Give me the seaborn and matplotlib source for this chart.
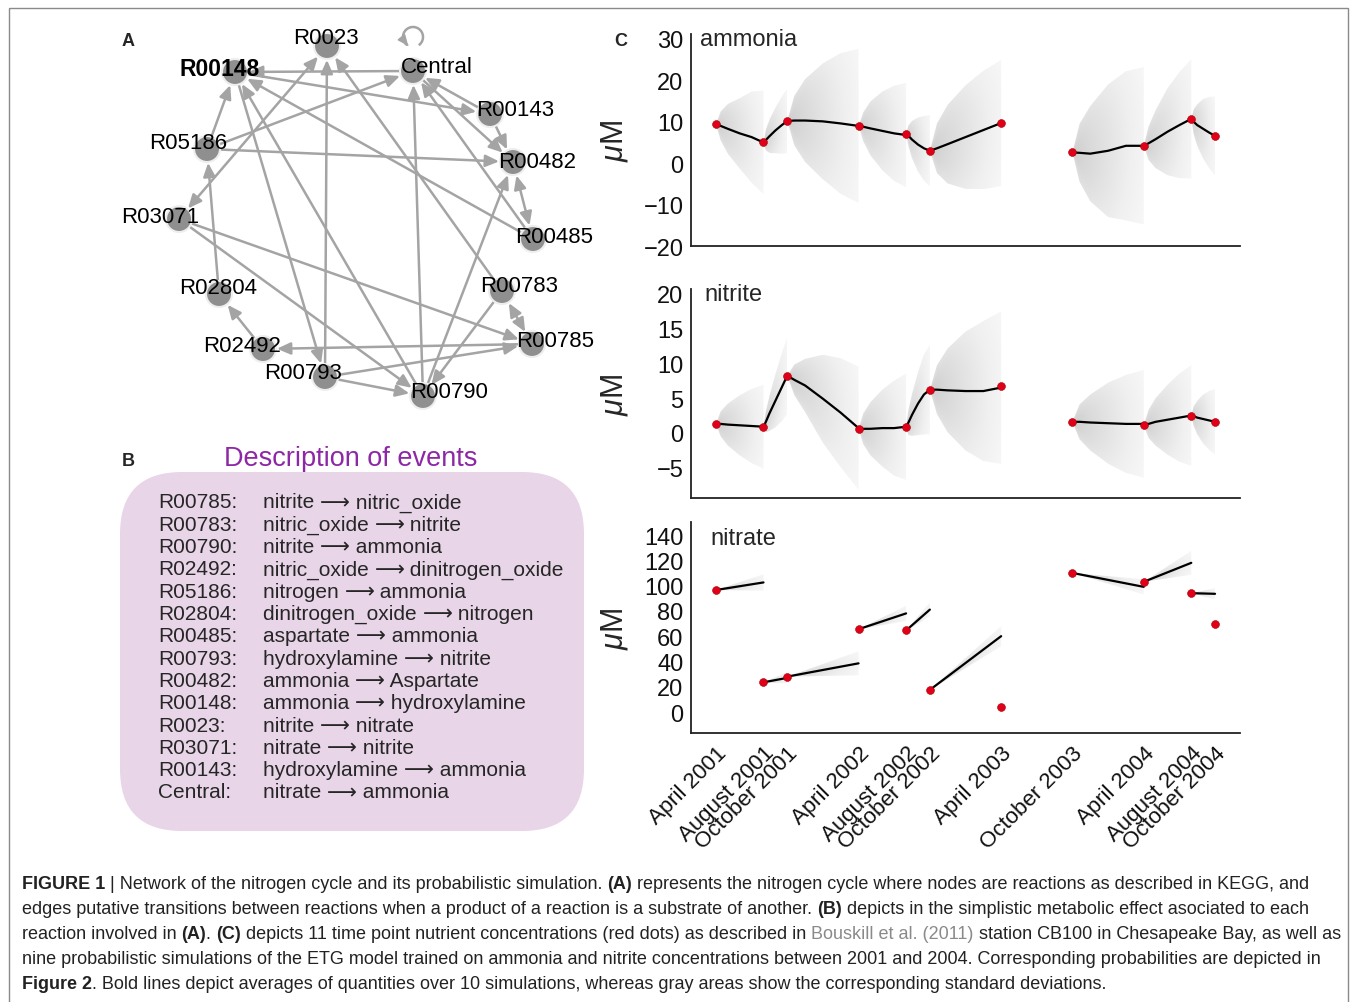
import matplotlib
matplotlib.use("Agg")
import matplotlib.pyplot as plt
import seaborn as sns
import numpy as np
import pandas as pd
from matplotlib.patches import FancyArrowPatch, Circle, FancyBboxPatch, Rectangle, PathPatch, Arc
from matplotlib.font_manager import FontProperties

# ---------------- panel A : reaction network ----------------
node_names = ["R0023", "Central", "R00148", "R00143", "R05186", "R00482", "R03071",
              "R00485", "R00783", "R02804", "R00785", "R02492", "R00793", "R00790"]
node_x = [327, 413, 235, 490, 207, 513, 179, 533, 502, 219, 532, 263, 325, 423]
node_y = [47, 72, 73, 115, 150, 163, 220, 240, 292, 295, 345, 350, 378, 397]
label_dx = [-1, 24, -15, 25, -19, 24, -19, 21, 17, -1, 23, -21, -22, 26]
label_dy = [-9, -5, -4, -5, -7, -1, -3, -3, -6, -7, -4, -4, -5, -4]

edges = [("Central", "R00148"), ("R00148", "R00143"), ("R05186", "R00148"),
         ("R05186", "Central"), ("R05186", "R00482"), ("R00793", "R0023"),
         ("R00783", "R0023"), ("R00148", "R00793"), ("R00790", "R00148"),
         ("R00485", "R00148"), ("R00143", "Central"), ("Central", "R00482"),
         ("R00485", "Central"), ("R00143", "R00482"), ("R00790", "Central"),
         ("R00790", "R00482"), ("R00783", "R00790"), ("R03071", "R00785"),
         ("R03071", "R00790"), ("R02804", "R05186"), ("R02492", "R02804"),
         ("R00785", "R02492"), ("R00793", "R00785"), ("R00793", "R00790")]
double_edges = [("R0023", "R03071"), ("R00482", "R00485"), ("R00783", "R00785")]

# ---------------- panel B : description of events ----------------
event_codes = ["R00785:", "R00783:", "R00790:", "R02492:", "R05186:", "R02804:", "R00485:",
               "R00793:", "R00482:", "R00148:", "R0023:", "R03071:", "R00143:", "Central:"]
event_from = ["nitrite", "nitric_oxide", "nitrite", "nitric_oxide", "nitrogen",
              "dinitrogen_oxide", "aspartate", "hydroxylamine", "ammonia", "ammonia",
              "nitrite", "nitrate", "hydroxylamine", "nitrate"]
event_to = ["nitric_oxide", "nitrite", "ammonia", "dinitrogen_oxide", "ammonia",
            "nitrogen", "ammonia", "nitrite", "Aspartate", "hydroxylamine",
            "nitrate", "nitrite", "ammonia", "ammonia"]

# ---------------- panel C : simulations ----------------
months = [0, 4, 6, 12, 16, 18, 24, 30, 36, 40, 42]
date_labels = ["April 2001", "August 2001", "October 2001", "April 2002", "August 2002",
               "October 2002", "April 2003", "October 2003", "April 2004", "August 2004",
               "October 2004"]
ammonia_obs = [9.4, 5.0, 10.2, 9.0, 7.1, 3.0, 9.7, 2.6, 4.2, 10.7, 6.6]
nitrite_obs = [1.3, 0.9, 8.2, 0.6, 0.9, 6.2, 6.7, 1.6, 1.1, 2.5, 1.6]
nitrate_obs = [96.5, 23.5, 28.0, 65.5, 64.5, 17.5, 4.0, 110.0, 103.0, 94.0, 70.0]

seg_start = [0, 1, 2, 3, 4, 5, 7, 8, 9]      # index of the starting observation
sim_frac = [0, 0.1, 0.25, 0.5, 0.75, 1.0]    # where the sim values were read

ammonia_mean = [[9.4, 9.0, 8.3, 7.2, 6.3, 5.0], [5.0, 5.6, 6.5, 7.9, 9.1, 10.2],
                [10.2, 10.3, 10.3, 10.1, 9.6, 9.0], [9.0, 8.8, 8.4, 7.8, 7.2, 6.8],
                [7.1, 6.6, 5.7, 4.5, 3.6, 3.0], [3.0, 3.6, 4.6, 6.3, 8.0, 9.7],
                [2.6, 2.5, 2.3, 3.0, 4.2, 4.2], [4.2, 4.8, 5.8, 7.6, 9.2, 10.7],
                [10.7, 10.0, 9.2, 8.3, 7.4, 6.6]]
ammonia_sd = [[0, 3.5, 6, 8.5, 11, 12.5], [0, 2.5, 4, 5.5, 6.8, 7.8],
              [0, 6, 10, 14, 17, 18.6], [0, 3.5, 6.5, 9.5, 11.5, 12.6],
              [0, 2.5, 4.5, 6.5, 7.8, 8.6], [0, 6, 9.5, 12.5, 14.3, 15.2],
              [0, 7, 11.5, 16, 18, 19], [0, 4, 7, 10.5, 12.8, 14.4],
              [0, 3, 5, 7.2, 8.6, 9.5]]
nitrite_mean = [[1.3, 1.3, 1.2, 1.1, 1.0, 0.9], [0.9, 1.6, 2.8, 4.6, 6.4, 8.2],
                [8.2, 7.6, 6.8, 4.9, 2.9, 0.7], [0.6, 0.6, 0.6, 0.7, 0.7, 0.9],
                [0.9, 1.5, 2.6, 4.2, 5.5, 6.2], [6.2, 6.2, 6.1, 6.0, 6.0, 6.5],
                [1.6, 1.6, 1.5, 1.4, 1.3, 1.3], [1.1, 1.3, 1.6, 1.9, 2.2, 2.5],
                [2.5, 2.4, 2.2, 2.0, 1.8, 1.6]]
nitrite_sd = [[0, 1.8, 3.0, 4.3, 5.3, 6.0], [0, 1.5, 2.5, 3.8, 4.8, 5.5],
              [0, 2.2, 3.8, 6.3, 7.8, 8.8], [0, 2.2, 3.8, 5.5, 6.8, 7.6],
              [0, 1.8, 3.0, 4.5, 5.7, 6.4], [0, 3.5, 6.0, 8.5, 10, 10.9],
              [0, 2.5, 4.0, 5.8, 7.0, 7.7], [0, 2, 3.4, 5, 6.3, 7.2],
              [0, 1.4, 2.4, 3.5, 4.2, 4.7]]
nitrate_frac = [0, 1.0]
nitrate_mean = [[96.5, 102.5], [23.5, 27.0], [28.0, 38.5], [65.5, 78.0], [64.5, 81.0],
                [17.5, 60.0], [110.0, 99.0], [103.0, 118.0], [94.0, 93.5]]
nitrate_sd = [[0, 6.5], [0, 4.5], [0, 9.5], [0, 6.0], [0, 5.5], [0, 8.0],
              [0, 6.0], [0, 9.5], [0, 4.4]]

# ---------------- style ----------------
sns.set_theme(style="white")
plt.rcParams["font.family"] = ["Liberation Sans", "DejaVu Sans"]
plt.rcParams["axes.unicode_minus"] = True
plt.rcParams["mathtext.fontset"] = "custom"
plt.rcParams["mathtext.it"] = "Liberation Sans:italic"
plt.rcParams["mathtext.rm"] = "Liberation Sans"

W, H = 1358, 1003
fig = plt.figure(figsize=(W / 100, H / 100), dpi=100)
fig.patch.set_facecolor("white")
renderer = fig.canvas.get_renderer()


def run_width(s, size, weight="normal", family=("Liberation Sans", "DejaVu Sans")):
    # advance width of a text run in pixels (trailing spaces included)
    fp = FontProperties(family=list(family), size=size, weight=weight)
    w1, _, _ = renderer.get_text_width_height_descent(s + "l", fp, ismath=False)
    w2, _, _ = renderer.get_text_width_height_descent("l", fp, ismath=False)
    return w1 - w2


# overlay axes in pixel coordinates for panels A, B and the caption
ax0 = fig.add_axes([0, 0, 1, 1])
ax0.set_xlim(0, W)
ax0.set_ylim(H, 0)
ax0.axis("off")

ax0.add_patch(Rectangle((9, 9), 1339, 1010, fill=False, ec="#8a8a8a", lw=1.0))

# ---- panel A
ax0.text(128, 41, "A", fontsize=13, fontweight="bold", ha="center", va="center")
pos = {n: (x, y) for n, x, y in zip(node_names, node_x, node_y)}
edge_col = "#a4a4a4"
for a, b in edges:
    ax0.add_patch(FancyArrowPatch(pos[a], pos[b], arrowstyle="-|>,head_length=0.45,head_width=0.2",
                                  mutation_scale=18, color=edge_col, lw=1.8,
                                  shrinkA=9, shrinkB=10, zorder=2))
for a, b in double_edges:
    ax0.add_patch(FancyArrowPatch(pos[a], pos[b], arrowstyle="<|-|>,head_length=0.45,head_width=0.2",
                                  mutation_scale=18, color=edge_col, lw=1.8,
                                  shrinkA=10, shrinkB=10, zorder=2))
cx, cy = pos["Central"]
ax0.add_patch(Arc((cx, cy - 34), 20, 20, theta1=125, theta2=415, color=edge_col, lw=1.8, zorder=2))
ax0.add_patch(FancyArrowPatch((cx - 7, cy - 28), (cx - 3, cy - 23),
                              arrowstyle="-|>,head_length=0.45,head_width=0.2",
                              mutation_scale=14, color=edge_col, lw=1.2, zorder=2))
for n, x, y, dx, dy in zip(node_names, node_x, node_y, label_dx, label_dy):
    ax0.add_patch(Circle((x, y), 13, fc="#8f8f8f", ec="#eeeeee", lw=1.5, zorder=3))
    ax0.text(x + dx, y + dy, n, fontsize=16.5 if n == "R00148" else 16, ha="center", va="center",
             zorder=4, fontweight="bold" if n == "R00148" else "normal", color="black")

# ---- panel B
ax0.text(128, 462, "B", fontsize=13, fontweight="bold", ha="center", va="center")
ax0.text(351, 459, "Description of events", fontsize=19.5, color="#8d27a6",
         ha="center", va="center")
ax0.add_patch(FancyBboxPatch((120, 473), 464, 359,
                             boxstyle="round,pad=0,rounding_size=62",
                             fc="#e8d5e8", ec="none", zorder=1))
desc_size = 15
for i, (code, a, b) in enumerate(zip(event_codes, event_from, event_to)):
    yy = 503 + 22.3 * i
    ax0.text(158, yy, code, fontsize=desc_size, ha="left", va="center", zorder=2)
    x = 263
    ax0.text(x, yy, a + " ", fontsize=desc_size, ha="left", va="center", zorder=2)
    x += run_width(a + " ", desc_size)
    ax0.text(x, yy, "\u27f6", fontsize=desc_size, ha="left", va="center", zorder=2,
             family=["DejaVu Sans"])
    x += run_width("\u27f6", desc_size, family=("DejaVu Sans",))
    ax0.text(x, yy, " " + b, fontsize=desc_size, ha="left", va="center", zorder=2)

# ---- caption
cap_size = 13.0
dark = "#222222"
caption = [
    [("FIGURE 1", "bold", dark), (" | Network of the nitrogen cycle and its probabilistic simulation. ", "normal", dark),
     ("(A)", "bold", dark), (" represents the nitrogen cycle where nodes are reactions as described in KEGG, and", "normal", dark)],
    [("edges putative transitions between reactions when a product of a reaction is a substrate of another. ", "normal", dark),
     ("(B)", "bold", dark), (" depicts in the simplistic metabolic effect asociated to each", "normal", dark)],
    [("reaction involved in ", "normal", dark), ("(A)", "bold", dark), (". ", "normal", dark),
     ("(C)", "bold", dark), (" depicts 11 time point nutrient concentrations (red dots) as described in ", "normal", dark),
     ("Bouskill et al. (2011)", "normal", "#8a8a8a"), (" station CB100 in Chesapeake Bay, as well as", "normal", dark)],
    [("nine probabilistic simulations of the ETG model trained on ammonia and nitrite concentrations between 2001 and 2004. Corresponding probabilities are depicted in", "normal", dark)],
    [("Figure 2", "bold", dark), (". Bold lines depict averages of quantities over 10 simulations, whereas gray areas show the corresponding standard deviations.", "normal", dark)],
]
for li, runs in enumerate(caption):
    x = 22
    yb = 889 + 25 * li
    for s, wgt, col in runs:
        ax0.text(x, yb, s, fontsize=cap_size, fontweight=wgt, color=col, ha="left", va="baseline")
        x += run_width(s, cap_size, wgt)

# ---------------- panel C ----------------
def px_axes(top, bottom, left=691, right=1240):
    return fig.add_axes([left / W, 1 - bottom / H, (right - left) / W, (bottom - top) / H])


def gradient_fan(ax, t, m, s):
    t, m, s = np.asarray(t, float), np.asarray(m, float), np.asarray(s, float)
    lo, hi = m - s, m + s
    poly = ax.fill_between(t, lo, hi, facecolor="none", edgecolor="none")
    tt = np.linspace(t[0], t[-1], 120)
    yy = np.linspace(lo.min(), hi.max(), 160)
    mm = np.interp(tt, t, m)
    ss = np.maximum(np.interp(tt, t, s), 1e-6)
    d = np.clip(np.abs(yy[:, None] - mm[None, :]) / ss[None, :], 0, 1)
    xf = (tt - t[0]) / (t[-1] - t[0])
    img = (0.30 - 0.21 * xf[None, :]) * (1 - 0.25 * d ** 2)
    im = ax.imshow(img, extent=[t[0], t[-1], yy[0], yy[-1]], origin="lower", aspect="auto",
                   cmap="Greys", vmin=0, vmax=1, interpolation="bilinear", zorder=1)
    patch = PathPatch(poly.get_paths()[0], transform=ax.transData, fc="none", ec="none")
    ax.add_patch(patch)
    im.set_clip_path(patch)


panels = [
    ("ammonia", ammonia_obs, ammonia_mean, ammonia_sd, sim_frac, (35, 247), (-20, 31.2),
     [-20, -10, 0, 10, 20, 30], (0.016, 0.976)),
    ("nitrite", nitrite_obs, nitrite_mean, nitrite_sd, sim_frac, (290, 499), (-9.3, 20.6),
     [-5, 0, 5, 10, 15, 20], (0.025, 0.976)),
    ("nitrate", nitrate_obs, nitrate_mean, nitrate_sd, nitrate_frac, (523, 734), (-16.6, 150.3),
     [0, 20, 40, 60, 80, 100, 120, 140], (0.035, 0.924)),
]

for k, (name, obs, means, sds, frac, (top, bot), ylim, yticks, tpos) in enumerate(panels):
    ax = px_axes(top, bot)
    ax.set_facecolor("none")
    rows = []
    for j, i0 in enumerate(seg_start):
        t0, t1 = months[i0], months[i0 + 1]
        tt = [t0 + f * (t1 - t0) for f in frac]
        gradient_fan(ax, tt, means[j], sds[j])
        for tv, mv in zip(tt, means[j]):
            rows.append({"month": tv, "mean": mv, "seg": j})
    df = pd.DataFrame(rows)
    sns.lineplot(data=df, x="month", y="mean", units="seg", estimator=None, color="black",
                 lw=1.6, ax=ax, zorder=3)
    sns.scatterplot(x=months, y=obs, color="#e0001a", edgecolor="#a00000", linewidth=0.4,
                    s=32, ax=ax, zorder=5)
    ax.set_xlim(-2.1, 44.1)
    ax.set_ylim(*ylim)
    ax.set_yticks(yticks)
    ax.tick_params(axis="y", direction="inout", length=7, width=1, labelsize=17, pad=2, colors="#111111")
    for sp in ["top", "right"]:
        ax.spines[sp].set_visible(False)
    for sp in ["left", "bottom"]:
        ax.spines[sp].set_color("#222222")
        ax.spines[sp].set_linewidth(1.3)
    ax.set_ylabel(r"$\mu$M", fontsize=22)
    ax.yaxis.set_label_coords(-0.112, 0.5)
    ax.set_xlabel("")
    ax.text(tpos[0], tpos[1], name, transform=ax.transAxes, fontsize=17, ha="left", va="center")
    if k < 2:
        ax.set_xticks([])
    else:
        ax.set_xticks(months)
        ax.set_xticklabels(date_labels, rotation=45, ha="right", va="top",
                           rotation_mode="anchor", fontsize=16)
        ax.tick_params(axis="x", direction="inout", length=7, width=1, pad=3, colors="#111111")

ax0.text(621, 41, "C", fontsize=13, fontweight="bold", ha="center", va="center")

fig.savefig("out.png", dpi=100)
